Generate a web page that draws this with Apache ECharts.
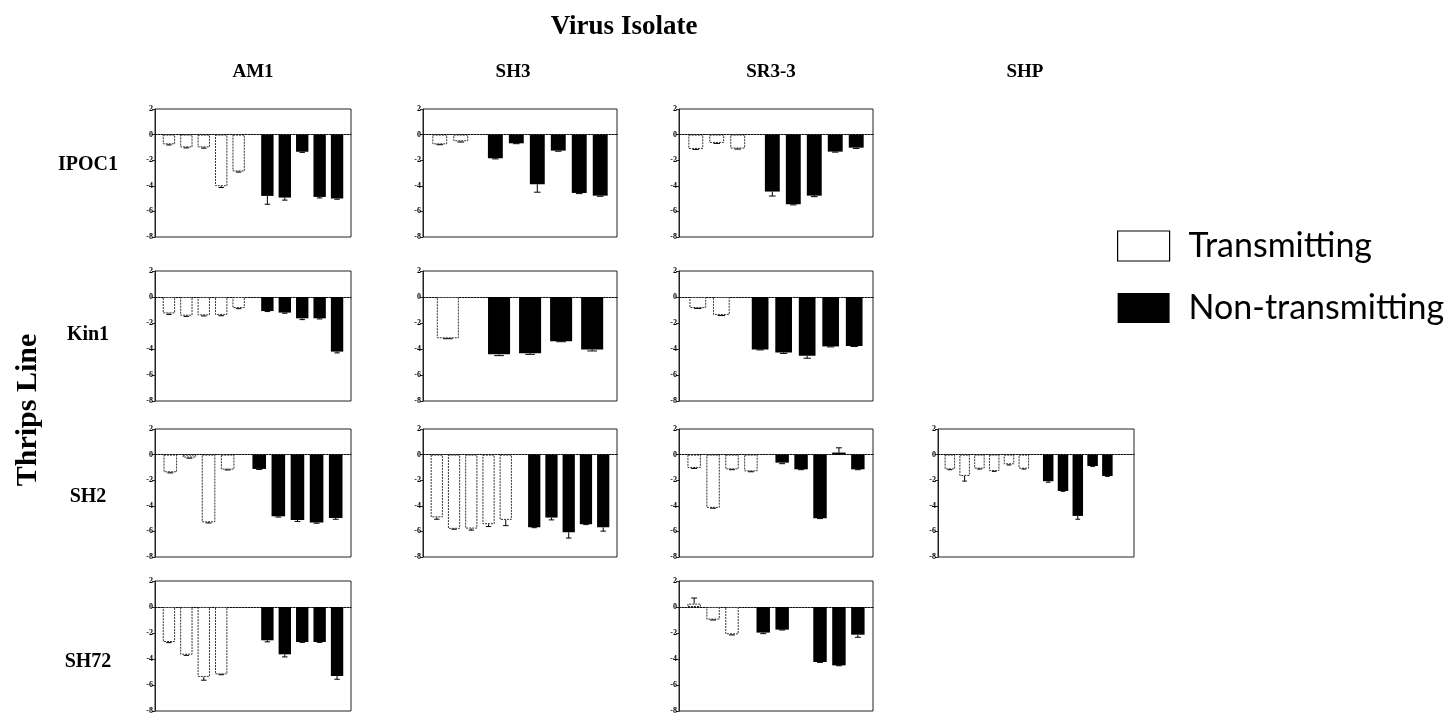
<!DOCTYPE html>
<html>
<head>
<meta charset="utf-8">
<script src="https://cdn.jsdelivr.net/npm/echarts@6/dist/echarts.min.js"></script>
<style>
html,body{margin:0;padding:0;background:#fff;}
#chart{width:1454px;height:717px;}
</style>
</head>
<body>
<div id="chart"></div>
<script>
// ---------- labels ----------
const chartTitle = 'Virus Isolate';
const rowAxisTitle = 'Thrips Line';
const virusIsolates = ['AM1', 'SH3', 'SR3-3', 'SHP'];
const thripsLines = ['IPOC1', 'Kin1', 'SH2', 'SH72'];
const legendNames = ['Transmitting', 'Non-transmitting'];
const yMin = -8, yMax = 2, yStep = 2;

// ---------- data (T = transmitting, N = non-transmitting, se = error) ----------
const AM1_IPOC1_T = [-0.76, -1.0, -1.0, -4.03, -2.88];
const AM1_IPOC1_Tse = [0.05, 0.04, 0.06, 0.1, 0.05];
const AM1_IPOC1_N = [-4.79, -4.92, -1.34, -4.87, -5.0];
const AM1_IPOC1_Nse = [0.65, 0.2, 0.05, 0.08, 0.05];

const SH3_IPOC1_T = [-0.76, -0.52];
const SH3_IPOC1_Tse = [0.03, 0.06];
const SH3_IPOC1_N = [-1.85, -0.68, -3.88, -1.25, -4.56, -4.77];
const SH3_IPOC1_Nse = [0.05, 0.03, 0.62, 0.05, 0.05, 0.05];

const SR3_IPOC1_T = [-1.12, -0.65, -1.09];
const SR3_IPOC1_Tse = [0.04, 0.04, 0.04];
const SR3_IPOC1_N = [-4.45, -5.44, -4.77, -1.33, -1.02];
const SR3_IPOC1_Nse = [0.35, 0.05, 0.08, 0.04, 0.06];

const AM1_Kin1_T = [-1.26, -1.44, -1.41, -1.38, -0.85];
const AM1_Kin1_Tse = [0.08, 0.05, 0.05, 0.06, 0.05];
const AM1_Kin1_N = [-1.08, -1.2, -1.64, -1.64, -4.2];
const AM1_Kin1_Nse = [0.04, 0.05, 0.1, 0.05, 0.1];

const SH3_Kin1_T = [-3.18];
const SH3_Kin1_Tse = [0.03];
const SH3_Kin1_N = [-4.41, -4.33, -3.41, -4.03];
const SH3_Kin1_Nse = [0.1, 0.08, 0.03, 0.12];

const SR3_Kin1_T = [-0.85, -1.38];
const SR3_Kin1_Tse = [0.03, 0.05];
const SR3_Kin1_N = [-4.03, -4.26, -4.51, -3.8, -3.77];
const SR3_Kin1_Nse = [0.04, 0.08, 0.2, 0.04, 0.04];

const AM1_SH2_T = [-1.38, -0.23, -5.29, -1.17];
const AM1_SH2_Tse = [0.05, 0.05, 0.05, 0.03];
const AM1_SH2_N = [-1.12, -4.82, -5.1, -5.31, -4.95];
const AM1_SH2_Nse = [0.04, 0.06, 0.12, 0.05, 0.1];

const SH3_SH2_T = [-4.9, -5.8, -5.78, -5.44, -5.1];
const SH3_SH2_Tse = [0.15, 0.03, 0.12, 0.18, 0.45];
const SH3_SH2_N = [-5.68, -4.92, -6.07, -5.44, -5.68];
const SH3_SH2_Nse = [0.03, 0.18, 0.45, 0.03, 0.3];

const SR3_SH2_T = [-1.05, -4.16, -1.15, -1.31];
const SR3_SH2_Tse = [0.03, 0.03, 0.03, 0.03];
const SR3_SH2_N = [-0.63, -1.15, -4.97, 0.16, -1.15];
const SR3_SH2_Nse = [0.08, 0.03, 0.03, 0.37, 0.03];

const SHP_SH2_T = [-1.15, -1.67, -1.1, -1.28, -0.76, -1.1];
const SHP_SH2_Tse = [0.03, 0.4, 0.03, 0.03, 0.05, 0.03];
const SHP_SH2_N = [-2.08, -2.84, -4.79, -0.89, -1.67, null];
const SHP_SH2_Nse = [0.08, 0.03, 0.26, 0.03, 0.03, null];

const AM1_SH72_T = [-2.69, -3.67, -5.38, -5.18, null];
const AM1_SH72_Tse = [0.05, 0.05, 0.25, 0.03, null];
const AM1_SH72_N = [-2.56, -3.64, -2.69, -2.69, -5.31];
const AM1_SH72_Nse = [0.12, 0.2, 0.03, 0.03, 0.25];

const SR3_SH72_T = [0.26, -0.97, -2.1];
const SR3_SH72_Tse = [0.43, 0.03, 0.05];
const SR3_SH72_N = [-1.97, -1.74, null, -4.23, -4.49, -2.13];
const SR3_SH72_Nse = [0.08, 0.03, null, 0.03, 0.03, 0.2];

// ---------- panel assignment (column = virus isolate, row = thrips line) ----------
const panels = [
  {c:0, r:0, T:AM1_IPOC1_T, Ts:AM1_IPOC1_Tse, N:AM1_IPOC1_N, Ns:AM1_IPOC1_Nse},
  {c:1, r:0, T:SH3_IPOC1_T, Ts:SH3_IPOC1_Tse, N:SH3_IPOC1_N, Ns:SH3_IPOC1_Nse},
  {c:2, r:0, T:SR3_IPOC1_T, Ts:SR3_IPOC1_Tse, N:SR3_IPOC1_N, Ns:SR3_IPOC1_Nse},
  {c:0, r:1, T:AM1_Kin1_T, Ts:AM1_Kin1_Tse, N:AM1_Kin1_N, Ns:AM1_Kin1_Nse},
  {c:1, r:1, T:SH3_Kin1_T, Ts:SH3_Kin1_Tse, N:SH3_Kin1_N, Ns:SH3_Kin1_Nse},
  {c:2, r:1, T:SR3_Kin1_T, Ts:SR3_Kin1_Tse, N:SR3_Kin1_N, Ns:SR3_Kin1_Nse},
  {c:0, r:2, T:AM1_SH2_T, Ts:AM1_SH2_Tse, N:AM1_SH2_N, Ns:AM1_SH2_Nse},
  {c:1, r:2, T:SH3_SH2_T, Ts:SH3_SH2_Tse, N:SH3_SH2_N, Ns:SH3_SH2_Nse},
  {c:2, r:2, T:SR3_SH2_T, Ts:SR3_SH2_Tse, N:SR3_SH2_N, Ns:SR3_SH2_Nse},
  {c:3, r:2, T:SHP_SH2_T, Ts:SHP_SH2_Tse, N:SHP_SH2_N, Ns:SHP_SH2_Nse},
  {c:0, r:3, T:AM1_SH72_T, Ts:AM1_SH72_Tse, N:AM1_SH72_N, Ns:AM1_SH72_Nse},
  {c:2, r:3, T:SR3_SH72_T, Ts:SR3_SH72_Tse, N:SR3_SH72_N, Ns:SR3_SH72_Nse}
];

// ---------- layout ----------
const colBox = [[155, 351], [423, 617], [679, 873], [938, 1134]];
const rowBox = [[109, 237], [271, 401], [429, 557], [581, 711]];
const colLabelX = [253, 513, 771, 1025];
const rowLabelY = [165, 335, 497, 662];
const EDGE = 0.8, GROUP_GAP = 1.65, BAR_FRAC = 0.71;
const serif = '"Liberation Serif", "Times New Roman", serif';
const ink = '#000';

const grids = [], xAxes = [], yAxes = [], series = [];

panels.forEach((p, gi) => {
  const [x0, x1] = colBox[p.c];
  const [y0, y1] = rowBox[p.r];
  const w = x1 - x0, h = y1 - y0;
  const nT = p.T.length;
  const tPos = p.T.map((_, i) => i);
  const nPos = p.N.map((_, j) => (nT - 1) + GROUP_GAP + j);
  const xmin = -EDGE, xmax = nPos[nPos.length - 1] + EDGE;
  const slotPx = w / (xmax - xmin);
  const bw = slotPx * BAR_FRAC;

  grids.push({left: x0, top: y0, width: w, height: h, show: true,
    borderColor: '#222', borderWidth: 1, backgroundColor: 'transparent'});
  xAxes.push({gridIndex: gi, type: 'value', min: xmin, max: xmax,
    axisLine: {show: true, onZero: true, lineStyle: {color: '#111', width: 1, type: [2, 1]}},
    axisTick: {show: false}, axisLabel: {show: false}, splitLine: {show: false}});
  yAxes.push({gridIndex: gi, type: 'value', min: yMin, max: yMax, interval: yStep,
    axisLine: {show: true, onZero: false, lineStyle: {color: '#222', width: 1}},
    axisTick: {show: true, length: 3, lineStyle: {color: '#222'}},
    axisLabel: {show: true, fontSize: 8, fontWeight: 'bold', fontFamily: serif, color: ink, margin: 2},
    splitLine: {show: false}});

  const pairs = (vals, pos) => vals.map((v, i) => v == null ? null : [pos[i], v]).filter(d => d);
  const errs = (vals, se, pos) => vals.map((v, i) => v == null ? null : [pos[i], v, se[i]]).filter(d => d);

  series.push({name: legendNames[0], type: 'bar', xAxisIndex: gi, yAxisIndex: gi,
    data: pairs(p.T, tPos), barWidth: bw, barGap: '-100%',
    itemStyle: {color: '#fff', borderColor: '#333', borderWidth: 1, borderType: [2, 1]}});
  series.push({name: legendNames[1], type: 'bar', xAxisIndex: gi, yAxisIndex: gi,
    data: pairs(p.N, nPos), barWidth: bw, barGap: '-100%',
    itemStyle: {color: '#000', borderColor: '#000', borderWidth: 0}});
  series.push({type: 'custom', xAxisIndex: gi, yAxisIndex: gi, z: 5, silent: true,
    data: errs(p.T, p.Ts, tPos).concat(errs(p.N, p.Ns, nPos)),
    encode: {x: 0, y: 1},
    renderItem: (params, api) => {
      const x = api.value(0), v = api.value(1), se = api.value(2);
      const dir = v < 0 ? -1 : 1;
      const a = api.coord([x, v]);
      const b = api.coord([x, v + dir * se]);
      const hw = bw * 0.22;
      const st = {stroke: '#000', lineWidth: 1};
      return {type: 'group', children: [
        {type: 'line', shape: {x1: a[0], y1: a[1], x2: b[0], y2: b[1]}, style: st},
        {type: 'line', shape: {x1: b[0] - hw, y1: b[1], x2: b[0] + hw, y2: b[1]}, style: st}
      ]};
    }});
});

// ---------- text ----------
const graphics = [];
graphics.push({type: 'text', x: 624, y: 27, style: {text: chartTitle, font: 'bold 27px ' + serif,
  fill: ink, textAlign: 'center', textVerticalAlign: 'middle'}});
virusIsolates.forEach((t, i) => graphics.push({type: 'text', x: colLabelX[i], y: 72,
  style: {text: t, font: 'bold 19px ' + serif, fill: ink, textAlign: 'center', textVerticalAlign: 'middle'}}));
thripsLines.forEach((t, i) => graphics.push({type: 'text', x: 88, y: rowLabelY[i],
  style: {text: t, font: 'bold 20px ' + serif, fill: ink, textAlign: 'center', textVerticalAlign: 'middle'}}));
graphics.push({type: 'text', x: 28, y: 410, rotation: Math.PI / 2,
  style: {text: rowAxisTitle, font: 'bold 30px ' + serif, fill: ink, textAlign: 'center', textVerticalAlign: 'middle'}});

const chart = echarts.init(document.getElementById('chart'), null, {renderer: 'canvas'});
chart.setOption({
  animation: false,
  backgroundColor: '#fff',
  grid: grids,
  xAxis: xAxes,
  yAxis: yAxes,
  series: series,
  graphic: graphics,
  legend: {
    orient: 'vertical', left: 1117, top: 229, padding: 0, icon: 'rect',
    itemWidth: 52, itemHeight: 30, itemGap: 28,
    selectedMode: false,
    data: [
      {name: legendNames[0], itemStyle: {color: '#fff', borderColor: '#000', borderWidth: 1.2, borderType: 'solid'}},
      {name: legendNames[1], itemStyle: {color: '#000', borderColor: '#000', borderWidth: 0}}
    ],
    textStyle: {fontFamily: 'Lato, "Open Sans", sans-serif', fontSize: 34, color: '#000', padding: [0, 0, 0, 14]}
  }
});
</script>
</body>
</html>
